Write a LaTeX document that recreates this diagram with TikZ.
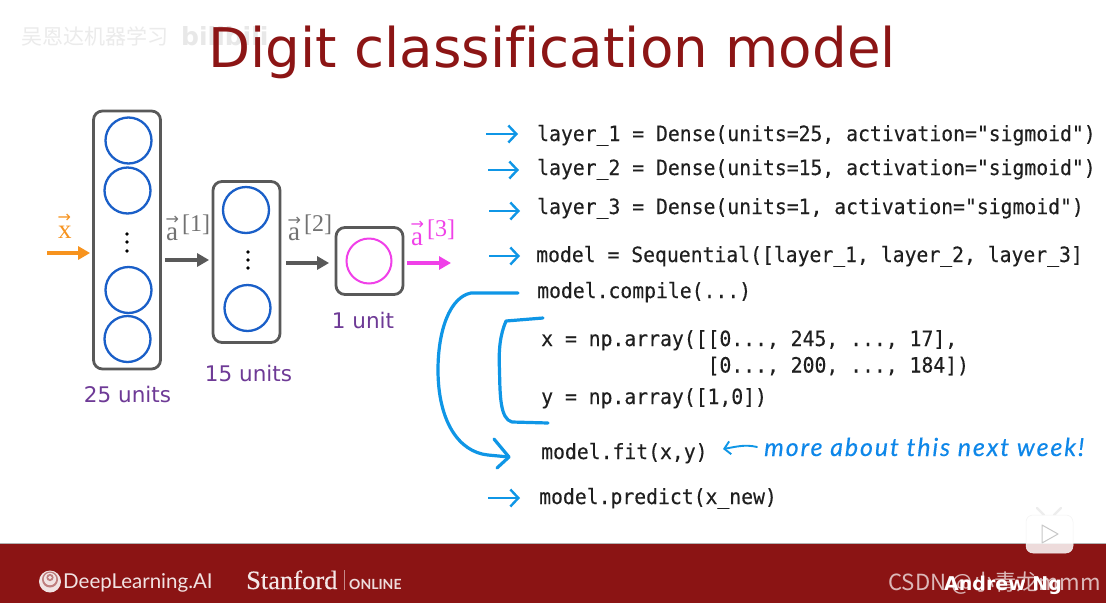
\documentclass[tikz,border=0pt]{standalone}
\usepackage{fontspec}
\setmainfont{DejaVu Sans}
\setmonofont[FakeStretch=0.94,FakeBold=0.25]{DejaVu Sans Mono}
\newfontfamily\cjk{Noto Sans CJK SC}
\newfontfamily\titlefont[Ligatures=NoCommon]{DejaVu Sans}
\newfontfamily\hand[LetterSpace=7.5,FakeBold=0.3]{Lato}
\newfontfamily\logofont{Lato}
\newfontfamily\stanfordfont[FakeBold=0.3]{Liberation Serif}
\newfontfamily\vecfont{Liberation Serif}
\newfontfamily\arrowfont{DejaVu Sans}
\usetikzlibrary{arrows.meta,calc}
\definecolor{crimson}{HTML}{8C1515}
\definecolor{darkbar}{HTML}{8B1414}
\definecolor{boxgray}{HTML}{595959}
\definecolor{unitblue}{HTML}{1A5FC8}
\definecolor{penblue}{HTML}{0F96E6}
\definecolor{pink}{HTML}{F040E8}
\definecolor{orangex}{HTML}{F7931E}
\definecolor{purpletxt}{HTML}{6E3A96}
\tikzset{
  layerbox/.style={draw=boxgray,line width=2.8pt,rounded corners=9pt,fill=white},
  unitc/.style={circle,draw=unitblue,line width=2.3pt,minimum size=46pt,inner sep=0pt},
  unitp/.style={circle,draw=pink,line width=2pt,minimum size=45pt,inner sep=0pt},
  vdot/.style={circle,fill=black,inner sep=0pt,minimum size=3.8pt},
  thick arrow/.style={line width=3.6pt,-{Triangle[length=12pt,width=13pt]}},
  penarrow/.style={draw=penblue,line width=2.4pt,-{Straight Barb[length=8pt,width=17pt,line width=2.4pt]}},
  penline/.style={draw=penblue,line width=3.2pt,line cap=round,line join=round},
  code/.style={anchor=base west,inner sep=0pt,font=\ttfamily\fontsize{21}{21}\selectfont,text=black!88},
  unitlabel/.style={anchor=base,inner sep=0pt,text=purpletxt,font=\fontsize{21.5}{21.5}\selectfont},
  veclabel/.style={anchor=base west,inner sep=0pt,font=\vecfont\fontsize{27}{27}\selectfont}
}
\newcommand{\vecl}[1]{\rlap{\kern-0.5pt\raisebox{15.5pt}{\arrowfont\fontsize{16}{16}\selectfont →}}#1}
\newcommand{\supl}[1]{\raisebox{9pt}{\kern4pt\fontsize{24}{24}\selectfont[#1]}}
\begin{document}
\begin{tikzpicture}[x=1pt,y=-1pt]
\useasboundingbox (0,0) rectangle (1106,603);
\fill[white] (0,0) rectangle (1106,603);
% watermark
\node[anchor=base west,inner sep=0pt,text=black!8] (wm1) at (21,44) {\cjk\fontsize{21}{21}\selectfont 吴恩达机器学习};
\node[anchor=base west,inner sep=0pt,text=black!9] (wm2) at (181,45) {\fontsize{25}{25}\selectfont\bfseries bilibili};
% title
\node[anchor=base west,inner sep=0pt,text=crimson] (title) at (208,67) {\titlefont\fontsize{54.7}{54.7}\selectfont Digit classification model};
% layers
\node[layerbox,minimum width=67pt,minimum height=258pt,anchor=center] (L1) at (127,240) {};
\node[layerbox,minimum width=67pt,minimum height=161pt] (L2) at (246.5,262) {};
\node[layerbox,minimum width=67pt,minimum height=67pt] (L3) at (369.5,261) {};
\node[unitc] (u11) at (128.5,140.5) {};
\node[unitc] (u12) at (127.5,190.5) {};
\node[unitc] (u13) at (128.5,290) {};
\node[unitc] (u14) at (127.5,339) {};
\node[unitc] (u21) at (246,210) {};
\node[unitc] (u22) at (247.5,308) {};
\node[unitp] (u31) at (369,261) {};
\node[vdot] (d11) at (127,234) {};
\node[vdot] (d12) at (127,242) {};
\node[vdot] (d13) at (127,251) {};
\node[vdot] (d21) at (248,252) {};
\node[vdot] (d22) at (248,260) {};
\node[vdot] (d23) at (248,268) {};
% arrows
\coordinate (xs) at (47,253);
\coordinate (a3e) at (451,263);
\draw[orangex,thick arrow,shorten >=2pt] (xs) -- (L1.west |- xs);
\draw[boxgray,thick arrow,shorten <=3pt,shorten >=2.5pt] (L1.east |- 0,260) -- (L2.west |- 0,260);
\draw[boxgray,thick arrow,shorten <=5pt,shorten >=5.5pt] (L2.east |- 0,263) -- (L3.west |- 0,263);
\draw[pink,thick arrow,shorten <=3pt] (L3.east |- a3e) -- (a3e);
% labels
\node[veclabel,text=orangex] (lx) at (58,238) {\vecl{x}};
\node[veclabel,text=boxgray!85] (la1) at (166,240) {\vecl{a}\supl{1}};
\node[veclabel,text=boxgray!85] (la2) at (288,240.5) {\vecl{a}\supl{2}};
\node[veclabel,text=pink] (la3) at (411,245) {\vecl{a}\supl{3}};
\node[unitlabel] (t25) at (127.5,402) {25 units};
\node[unitlabel] (t15) at (248.5,381) {15 units};
\node[unitlabel] (t1) at (363,328) {1 unit};
% code
\node[code] (c1) at (537,141) {layer\_1 = Dense(units=25, activation="sigmoid")};
\node[code] (c2) at (537,175) {layer\_2 = Dense(units=15, activation="sigmoid")};
\node[code] (c3) at (537,214) {layer\_3 = Dense(units=1, activation="sigmoid")};
\node[code] (c4) at (536,262) {model = Sequential([layer\_1, layer\_2, layer\_3]};
\node[code] (c5) at (537,298) {model.compile(...)};
\node[code] (c6) at (541,346) {x = np.array([[0..., 245, ..., 17],};
\node[code] (c7) at (541,372.5) {\phantom{x = np.array([}[0..., 200, ..., 184])};
\node[code] (c8) at (541,404) {y = np.array([1,0])};
\node[code] (c9) at (541,459) {model.fit(x,y)};
\node[code] (c10) at (539,504) {model.predict(x\_new)};
% pen arrows
\coordinate (p1) at (486,134);\coordinate (q1) at (518,134);
\coordinate (p2) at (488,170);\coordinate (q2) at (519,170);
\coordinate (p3) at (489,211);\coordinate (q3) at (520,211);
\coordinate (p4) at (489,256);\coordinate (q4) at (520,256);
\coordinate (p5) at (488,498);\coordinate (q5) at (520,498);
\foreach \i in {1,...,5}{\draw[penarrow] (p\i) -- (q\i);}
% curly
\coordinate (b1) at (518,293);
\coordinate (b1e) at (509,457);
\coordinate (b1t) at (494,439);
\coordinate (b1b) at (497,468);
\draw[penline] (b1) -- (471,293) .. controls (450,297) and (438,330) .. (438,370)
  .. controls (438,420) and (458,452) .. (488,455) -- (b1e);
\draw[penline] (b1t) -- (b1e) -- (b1b);
\coordinate (b2) at (543,318);
\coordinate (b2e) at (548,423);
\draw[penline] (b2) -- (506,321) .. controls (500,335) and (498.5,350) .. (499.5,370)
  .. controls (500,395) and (500,419) .. (512,422) -- (b2e);
% hand note
\coordinate (h1) at (757,447);
\coordinate (h2) at (723,449);
\node[anchor=base west,inner sep=0pt,text=penblue!90!blue] (note) at (764,456) {\hand\itshape\fontsize{25}{25}\selectfont more about this next week!};
\draw[penarrow,line width=1.9pt,line cap=round,-{Straight Barb[length=6pt,width=13pt,line width=1.9pt]}] (h1) .. controls (745,444) and (735,447) .. (h2);
% footer
\fill[darkbar] (0,544) rectangle (1106,603);
\draw[line width=1pt,black!30] (0,543.5) -- (1106,543.5);
\fill[white!88!darkbar] (50,581.5) circle (11pt);
\fill[white!45!darkbar] (50,579.5) circle (8pt);
\fill[white!88!darkbar] (50,579) circle (6.2pt);
\fill[white!45!darkbar] (50,577.5) circle (3.6pt);
\fill[white!88!darkbar] (50,577.5) circle (1.8pt);
\node[anchor=base west,inner sep=0pt,text=white!88!darkbar] (dl) at (63,588) {\logofont\fontsize{20.5}{20.5}\selectfont DeepLearning.AI};
\node[anchor=base west,inner sep=0pt,text=white!90!darkbar] (st) at (246,589) {\stanfordfont\fontsize{26.5}{26.5}\selectfont Stanford};
\draw[white!50!darkbar,line width=.8pt] (344,570) -- (344,590);
\node[anchor=base west,inner sep=0pt,text=white!85!darkbar] (on) at (349,589) {\logofont\bfseries\fontsize{14}{14}\selectfont ONLINE};
\node[anchor=base west,inner sep=0pt,text=white!70!darkbar] (csdn) at (888,590) {\cjk\fontsize{22.2}{22.2}\selectfont CSDN @小青龙mmm};
\node[anchor=base west,inner sep=0pt,text=white] (ang) at (944,590) {\bfseries\fontsize{19}{19}\selectfont Andrew Ng};
% play icon
\draw[white!93!black,line width=2.4pt,line cap=round] (1037,508) -- (1044,515);
\draw[white!93!black,line width=2.4pt,line cap=round] (1061,508) -- (1054,515);
\node[draw=black!5,line width=.5pt,fill=white,fill opacity=.85,rounded corners=7pt,minimum width=47pt,minimum height=38pt] (play) at (1049.5,534) {};
\draw[black!22,line width=1pt,line join=round,fill=white] (1042,525) -- (1058,534) -- (1042,543) -- cycle;
\end{tikzpicture}
\end{document}
